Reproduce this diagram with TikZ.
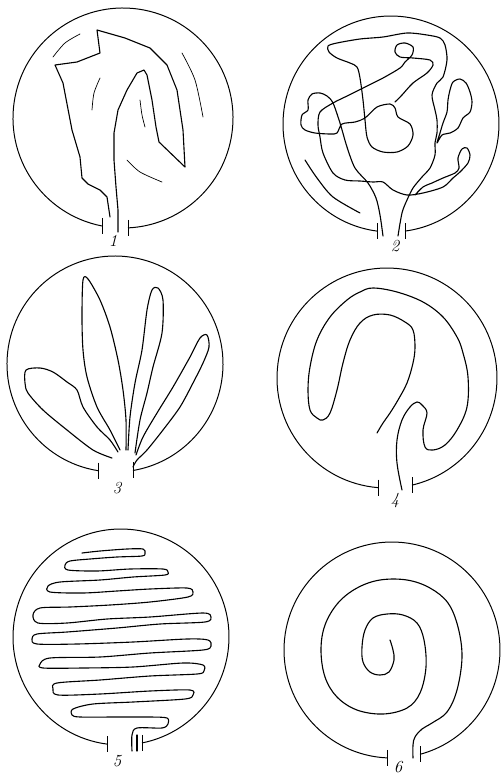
\documentclass[tikz,border=0pt]{standalone}
\usepackage{xcolor}
\usepackage{tikz}

% circle with an opening at the bottom: cx, cy, r, left x, right x
\newcommand{\dish}[5]{%
    \pgfmathsetmacro{\dishA}{acos((#4-#1)/#3)}
    \pgfmathsetmacro{\dishB}{360+acos((#5-#1)/#3)}
    \pgfmathsetmacro{\dishYl}{#2+sqrt(#3*#3-(#4-#1)*(#4-#1))}
    \pgfmathsetmacro{\dishYr}{#2+sqrt(#3*#3-(#5-#1)*(#5-#1))}
    \draw[wall] (#4,\dishYl) arc[start angle=\dishA, end angle=\dishB, radius=#3];
    \draw[wall] (#4,\dishYl-8) -- (#4,\dishYl+8);
    \draw[wall] (#5,\dishYr-8) -- (#5,\dishYr+8);
}

\begin{document}
\begin{tikzpicture}[
        x=0.03cm,
        y=-0.03cm,
        wall/.style={
            draw,
            line width=0.85pt
        },
        strand/.style={
            draw,
            line width=0.95pt,
            line join=round,
            line cap=round
        },
        faint/.style={
            draw,
            line width=0.6pt,
            line cap=round
        },
        num/.style={
            font=\Large\itshape,
            inner sep=0pt
        }
    ]

    \useasboundingbox (0,0) rectangle (503,777);

    \dish{123}{118}{110}{102}{128}
    \dish{391}{124}{108}{377}{405}
    \dish{115}{364}{108}{98}{133}
    \dish{387}{378}{110}{378}{412}
    \dish{121}{637}{108}{107}{142}
    \dish{392}{650}{108}{387}{420}

    \node[num] (n1) at (113,241) {1};
    \node[num] (n2) at (395,246) {2};
    \node[num] (n3) at (117,488) {3};
    \node[num] (n4) at (395,501) {4};
    \node[num] (n5) at (117,761) {5};
    \node[num] (n6) at (398,767) {6};

    % 1
    \draw[strand] (110,217) -- (107,197) -- (100,190) -- (88,184) -- (82,178)
        -- (80,157) -- (72,130) -- (63,83) -- (55,65) -- (77,62) -- (100,53)
        -- (97,30) -- (125,38) -- (150,48) -- (167,65) -- (177,90) -- (183,130)
        -- (185,167) -- (159,142) -- (156,127) -- (152,100) -- (147,75)
        -- (144,70) -- (137,73) -- (127,90) -- (118,110) -- (114,133)
        -- (114,160) -- (116,187) -- (118,210) -- (118,232);
    \draw[faint] plot[smooth] coordinates {(53,57) (65,43) (80,34)};
    \draw[faint] plot[smooth] coordinates {(92,110) (94,93) (100,78)};
    \draw[faint] plot[smooth] coordinates {(140,100) (142,115) (145,127)};
    \draw[faint] plot[smooth] coordinates {(182,53) (195,80) (203,117)};
    \draw[faint] plot[smooth] coordinates {(127,160) (140,172) (162,182)};

    % 2
    \draw[strand] plot[smooth, tension=0.5] coordinates {
        (383,236) (380,215) (376,198) (368,183) (355,168) (347,147) (340,123)
        (333,103) (327,96) (320,93) (312,94) (308,100) (308,110) (302,115)
        (301,125) (305,130) (315,133) (330,134) (337,133) (342,124) (355,122)
        (365,118) (377,107) (390,104) (395,108) (398,117) (410,124) (413,135)
        (408,146) (397,152) (383,152) (372,147) (367,137) (365,120) (363,100)
        (360,78) (357,67) (350,63) (337,58) (329,52) (328,46) (337,43) (360,39)
        (383,37) (407,33) (427,35) (440,38) (445,45) (447,60) (443,77) (437,83)
        (432,95) (435,110) (437,120) (437,133) (435,143) (435,155) (430,168)
        (422,177) (413,188) (407,200) (402,213) (398,236)};
    \draw[strand] plot[smooth, tension=0.5] coordinates {
        (395,102) (402,95) (413,83) (427,73) (433,65) (430,60) (413,58)
        (400,57) (395,52) (397,45) (405,43) (413,47) (412,55) (405,62)
        (400,68) (383,78) (363,88) (345,97) (333,103) (320,112) (318,125)
        (320,137) (323,153) (333,173) (345,180) (360,181) (373,182) (383,182)
        (393,190) (407,195) (423,193) (443,187) (453,178) (460,172) (468,163)
        (470,155) (467,148) (462,149) (458,158) (459,168) (455,173) (443,178)
        (432,183) (423,187) (415,195)};
    \draw[strand] plot[smooth cycle, tension=0.5] coordinates {
        (437,143) (442,135) (450,133) (458,128) (463,118) (470,112) (472,102)
        (470,92) (466,83) (460,79) (453,82) (450,90) (448,100) (447,112)
        (443,123) (440,133)};
    \draw[strand] plot[smooth] coordinates {(305,160) (317,178) (333,197) (360,213)};

    % 3
    \draw[strand] plot[smooth, tension=0.5] coordinates {
        (112,458) (93,450) (67,430) (43,410) (28,393) (25,383) (26,370)
        (40,368) (53,372) (67,382) (77,390) (83,407) (97,427) (110,440) (118,452)};
    \draw[strand] plot[smooth, tension=0.5] coordinates {
        (120,450) (110,430) (97,407) (87,377) (83,350) (82,317) (83,280)
        (88,279) (100,300) (110,327) (118,360) (123,390) (126,420) (126,450)};
    \draw[strand] plot[smooth, tension=0.5] coordinates {
        (128,450) (130,417) (135,383) (142,350) (147,310) (152,290) (158,288)
        (163,300) (162,333) (153,367) (147,393) (140,420) (135,453)};
    \draw[strand] plot[smooth, tension=0.5] coordinates {
        (136,455) (143,437) (157,413) (173,387) (190,357) (200,338) (207,335)
        (209,347) (203,363) (193,383) (180,407) (163,430) (147,450) (137,460)
        (133,467)};

    % 4
    \draw[strand] plot[smooth, tension=0.6] coordinates {
        (402,490) (397,463) (397,440) (402,420) (410,407) (417,402) (422,405)
        (427,413) (423,430) (425,447) (433,450) (445,445) (457,430) (467,407)
        (468,377) (463,353) (457,337) (443,317) (423,302) (397,292) (373,288)
        (360,292) (347,300) (330,317) (317,340) (310,367) (308,390) (310,410)
        (317,418) (323,420) (330,413) (337,390) (343,363) (350,340) (360,323)
        (373,315) (390,315) (405,322) (413,330) (415,347) (413,363) (407,383)
        (398,400) (390,413) (383,423) (377,433)};

    % 5
    \draw[strand] plot[smooth, tension=0.5] coordinates {
        (82,553) (100,551) (127,549) (143,549) (145,553) (142,556) (117,557)
        (90,559) (70,561) (65,565) (68,570) (97,571) (130,569) (163,569)
        (168,572) (165,575) (133,577) (100,580) (60,582) (48,586) (50,592)
        (83,593) (117,591) (150,589) (187,588) (193,592) (188,597) (150,602)
        (110,605) (70,607) (40,608) (33,615) (38,623) (67,623) (107,619)
        (150,617) (203,613) (211,617) (205,622) (160,624) (117,628) (67,632)
        (37,634) (32,639) (37,644) (77,644) (133,642) (187,639) (208,640)
        (211,646) (203,650) (150,653) (100,657) (50,658) (40,664) (43,668)
        (83,668) (133,667) (183,663) (203,665) (204,671) (197,674) (150,676)
        (100,680) (57,683) (53,689) (58,695) (100,694) (150,691) (190,690)
        (193,695) (185,699) (133,702) (93,704) (73,709) (72,715) (80,717)
        (117,717) (150,717) (167,718) (168,724) (162,728) (137,728) (132,735)
        (132,751)};
    \draw[strand] (137,735) -- (137,751);

    % 6
    \draw[strand] plot[smooth, tension=0.6] coordinates {
        (413,758) (413,745) (415,737) (422,729) (432,723) (447,712) (457,690)
        (462,657) (458,627) (448,603) (430,588) (407,580) (380,580) (357,588)
        (338,603) (325,625) (321,650) (325,677) (337,697) (357,710) (383,714)
        (407,708) (420,693) (426,667) (424,640) (417,623) (403,615) (387,614)
        (373,618) (365,630) (362,647) (363,662) (370,672) (380,675) (389,672)
        (394,660) (393,650) (390,640)};

\end{tikzpicture}
\end{document}
